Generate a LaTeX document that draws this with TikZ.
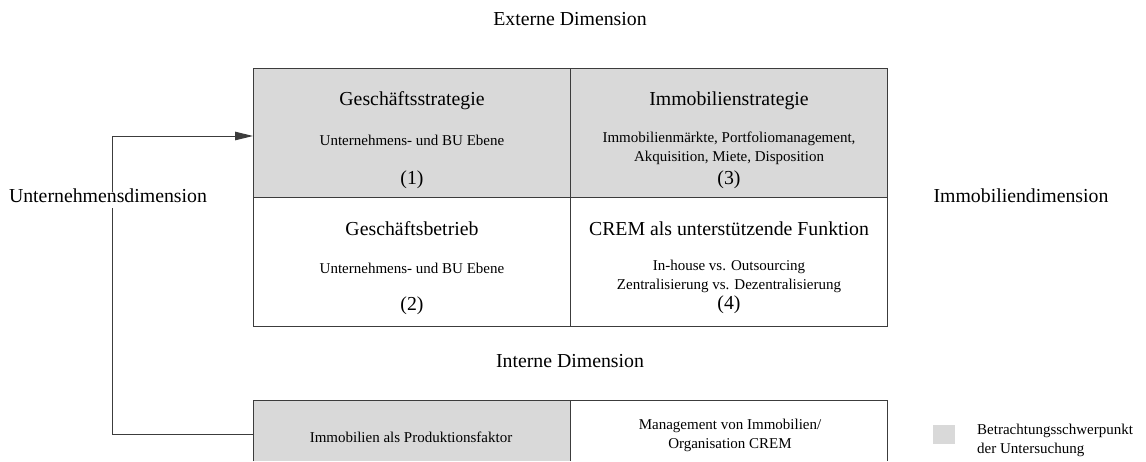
\documentclass[tikz,border=0pt]{standalone}
\usepackage{fontspec}
\setmainfont{Liberation Serif}
\usetikzlibrary{arrows.meta}
\definecolor{focusgray}{RGB}{217,217,217}
\definecolor{framegray}{RGB}{60,60,60}
\begin{document}
\begin{tikzpicture}[x=1pt,y=-1pt,
  cell/.style={draw=framegray, line width=1pt, minimum width=317pt,
    minimum height=129pt, inner sep=0pt, outer sep=0pt, anchor=north west},
  focus/.style={fill=focusgray},
  big/.style={font=\fontsize{19.8}{23}\selectfont, inner sep=0pt,
    text height=0.69em, text depth=0.22em},
  small/.style={font=\fontsize{15}{18.8}\selectfont, inner sep=0pt,
    align=center},
  link/.style={draw=framegray, line width=1pt},
]
\useasboundingbox (0,0) rectangle (1146,461);

% matrix of four fields
\node[cell, focus] (c1) at (253,68) {};
\node[cell, focus] (c3) at (570,68) {};
\node[cell] (c2) at (253,197) {};
\node[cell] (c4) at (570,197) {};

% field (1)
\node[big] (t1) at (412,103) {Geschäftsstrategie};
\node[small] (s1) at (412,140) {Unternehmens- und BU Ebene};
\node[big] (n1) at (412,182) {(1)};
% field (3)
\node[big] (t3) at (729,103) {Immobilienstrategie};
\node[small] (s3) at (729,148) {Immobilienmärkte, Portfoliomanagement,\\Akquisition, Miete, Disposition};
\node[big] (n3) at (729,182) {(3)};
% field (2)
\node[big] (t2) at (412,233) {Geschäftsbetrieb};
\node[small] (s2) at (412,268) {Unternehmens- und BU Ebene};
\node[big] (n2) at (412,308) {(2)};
% field (4)
\node[big] (t4) at (729,233) {CREM als unterstützende Funktion};
\node[small] (s4) at (729,276.5) {In-house vs. Outsourcing\\Zentralisierung vs. Dezentralisierung};
\node[big] (n4) at (729,307) {(4)};

% dimension labels
\node[big] (ext) at (570,23) {Externe Dimension};
\node[big] (int) at (570,365) {Interne Dimension};
\node[big] (imm) at (1021,200) {Immobiliendimension};

% lower row, running off the bottom edge
\node[minimum width=317pt, minimum height=61pt, inner sep=0pt, outer sep=0pt,
  anchor=north west, focus] (b1) at (253,400) {};
\node[minimum width=317pt, minimum height=61pt, inner sep=0pt, outer sep=0pt,
  anchor=north west] (b2) at (570,400) {};
\draw[link] (b1.south west) -- (b1.north west) -- (b2.north east) -- (b2.south east);
\draw[link] (b1.north east) -- (b1.south east);
\node[small] (bt1) at (411,437) {Immobilien als Produktionsfaktor};
\node[small] (bt2) at (730,435.5) {Management von Immobilien/\\Organisation CREM};

% feedback connector from the lower row to field (1)
\coordinate (corner) at (112,136);
\draw[link, -{Triangle[length=18pt,width=8.5pt]}]
  ([yshift=-3.5pt]b1.west) -| (corner) -- ([yshift=-3.5pt]c1.west);
\node[big, fill=white, inner ysep=3pt] (unt) at (108,200) {Unternehmensdimension};

% legend
\node[fill=focusgray, minimum width=22pt, minimum height=19pt, inner sep=0pt,
  anchor=north west] (key) at (933,425) {};
\node[small, align=left, anchor=west] (keytext) at (977,440.5) {Betrachtungsschwerpunkt\\der Untersuchung};
\end{tikzpicture}
\end{document}
